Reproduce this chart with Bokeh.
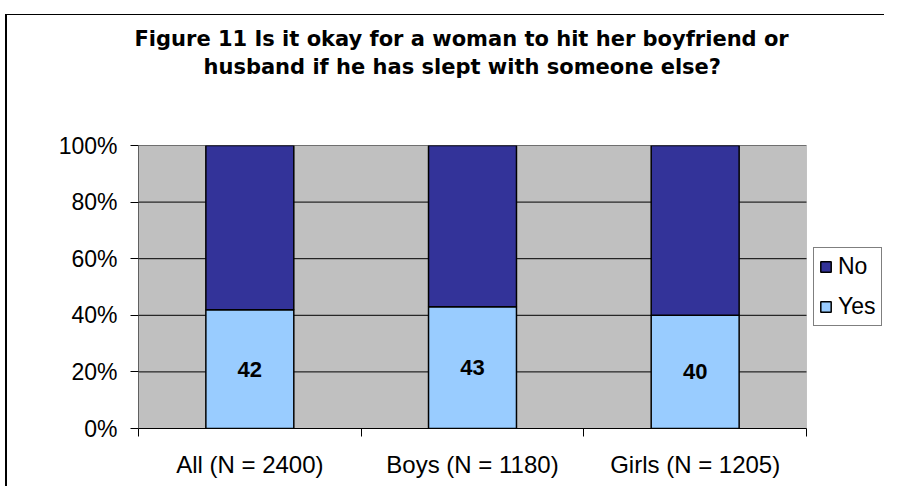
from bokeh.plotting import figure
from bokeh.models import (ColumnDataSource, Range1d, FixedTicker, PrintfTickFormatter,
                          Legend, LegendItem, Title, BoxAnnotation)
from bokeh.core.properties import value
from bokeh.embed import file_html
from bokeh.resources import INLINE

# ---- data ----
categories = ["All (N = 2400)", "Boys (N = 1180)", "Girls (N = 1205)"]
yes = [42, 43, 40]
no = [58, 57, 60]
y_ticks = [0, 20, 40, 60, 80, 100]
title_lines = ["Figure 11  Is it okay for a woman to hit her boyfriend or",
               "husband if he has slept with someone else?"]

n = len(categories)
xpos = [i + 0.5 for i in range(n)]
bounds = [float(i) for i in range(n + 1)]

source = ColumnDataSource(dict(x=xpos, Yes=yes, No=no))

# plot area spans 0..n; the frame is extended to the right to hold the legend
FRAME_W = 746
PLOT_W = 668
p = figure(frame_width=FRAME_W, frame_height=283, output_backend="svg", toolbar_location=None,
           x_range=Range1d(0, n * FRAME_W / PLOT_W), y_range=Range1d(0, 100),
           min_border_left=138, min_border_right=0, min_border_top=145, min_border_bottom=58)
p.styles = {
    "background-image": "linear-gradient(#000, #000), linear-gradient(#000, #000)",
    "background-size": "2px 100%, 100% 1px",
    "background-position": "5px 14px, 5px 14px",
    "background-repeat": "no-repeat",
}

p.background_fill_color = None
p.border_fill_color = None
p.outline_line_color = None

# grey plot area with grey outline
p.add_layout(BoxAnnotation(left=0, right=n, fill_color="#C0C0C0", fill_alpha=1,
                           line_color="#808080", line_width=1, level="underlay"))

# horizontal gridlines limited to plot area
p.xgrid.grid_line_color = None
p.ygrid.grid_line_color = None
p.segment(x0=[0] * (len(y_ticks) - 1), x1=[n] * (len(y_ticks) - 1),
          y0=y_ticks[1:], y1=y_ticks[1:], line_color="black", line_width=1)

renderers = p.vbar_stack(["Yes", "No"], x="x", width=0.395, source=source,
                         color=["#99CCFF", "#333399"], line_color="black", line_width=1.5)

# value labels
p.text(x=xpos, y=[v / 2 for v in yes], text=[str(v) for v in yes],
       text_align="center", text_baseline="middle",
       text_font=value("Liberation Sans"), text_font_style="bold",
       text_font_size="22px", text_color="black")

# y axis
p.yaxis.ticker = FixedTicker(ticks=y_ticks)
p.yaxis.formatter = PrintfTickFormatter(format="%d%%")
p.yaxis.major_label_text_font = "Liberation Sans"
p.yaxis.major_label_text_font_size = "23px"
p.yaxis.major_label_text_color = "black"
p.yaxis.major_tick_in = 0
p.yaxis.major_tick_out = 8
p.yaxis.major_tick_line_color = "black"
p.yaxis.minor_tick_line_color = None
p.yaxis.axis_line_color = "#606060"
p.yaxis.major_label_standoff = 13

# x axis
p.xaxis.bounds = (0, n)
p.xaxis.ticker = FixedTicker(ticks=xpos, minor_ticks=bounds)
p.xaxis.major_label_overrides = {x: c for x, c in zip(xpos, categories)}
p.xaxis.major_label_text_font = "Liberation Sans"
p.xaxis.major_label_text_font_size = "24px"
p.xaxis.major_label_text_color = "black"
p.xaxis.major_tick_line_color = None
p.xaxis.minor_tick_in = 0
p.xaxis.minor_tick_out = 8
p.xaxis.minor_tick_line_color = "black"
p.xaxis.axis_line_color = "black"
p.xaxis.major_label_standoff = 14

# legend (inside the extended frame, right of the plot area)
legend = Legend(items=[LegendItem(label="No", renderers=[renderers[1]]),
                       LegendItem(label="Yes", renderers=[renderers[0]])],
                location=(675, 102))
legend.label_text_font = "Liberation Sans"
legend.label_text_font_size = "23px"
legend.label_text_color = "black"
legend.glyph_width = 13
legend.glyph_height = 13
legend.label_standoff = 6
legend.spacing = 13
legend.padding = 5
legend.margin = 0
legend.border_line_color = "black"
legend.border_line_width = 1
legend.background_fill_color = "white"
legend.background_fill_alpha = 1
p.add_layout(legend, "center")

# title: spacer, then line 2, then line 1 (stacked outward from the frame)
p.add_layout(Title(text=" ", text_font_size="58px", standoff=0), "above")
p.add_layout(Title(text=title_lines[1], align="left", offset=65, standoff=0,
                   text_font="DejaVu Sans", text_font_style="bold",
                   text_font_size="21px", text_color="black"), "above")
p.add_layout(Title(text=title_lines[0], align="left", offset=-4, standoff=4,
                   text_font="DejaVu Sans", text_font_style="bold",
                   text_font_size="21px", text_color="black"), "above")

open("out.html", "w").write(file_html(p, INLINE))
